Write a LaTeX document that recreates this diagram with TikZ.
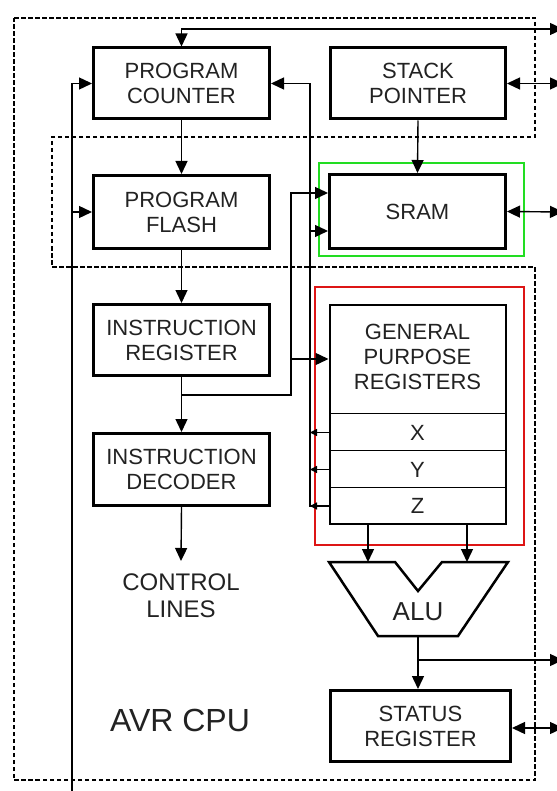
\documentclass[tikz,border=0pt]{standalone}
\usepackage{fontspec}
\setmainfont{Liberation Sans}
\usetikzlibrary{arrows.meta}
\definecolor{txt}{HTML}{222222}
\definecolor{grn}{HTML}{22DD22}
\definecolor{rd}{HTML}{DD1515}
\begin{document}
\begin{tikzpicture}[x=1pt,y=-1pt,
  box/.style={draw, line width=3pt, inner sep=0pt, align=center, text=txt,
    font=\fontsize{22}{25}\selectfont},
  lbl/.style={inner sep=0pt, align=center, text=txt, font=\fontsize{22}{25}\selectfont},
  conn/.style={line width=1.4pt},
  arr/.style={-{Triangle[length=13pt,width=12pt]}},
  biarr/.style={{Triangle[length=13pt,width=12pt]}-{Triangle[length=13pt,width=12pt]}},
  sarr/.style={-{Triangle[length=7pt,width=7pt]}},
  dashbox/.style={line width=2.5pt, dash pattern=on 4.5pt off 2.5pt},
  divider/.style={line width=1pt}]
\useasboundingbox (0,0) rectangle (556,791);
\fill[white] (0,0) rectangle (556,791);

% outer dashed CPU boundary (with memory notch)
\draw[dashbox] (14,18) -- (535,18) -- (535,137) -- (52,137) -- (52,267) -- (535,267) -- (535,780) -- (14,780) -- cycle;

% highlight boxes
\draw[grn, line width=2.8pt] (319,163) rectangle (524,256);
\draw[rd, line width=2.5pt] (315,287) rectangle (524,545);

% boxes
\node[box, minimum width=176pt, minimum height=71pt] (pc) at (181.5,83.5) {PROGRAM\\COUNTER};
\node[box, minimum width=175pt, minimum height=71pt] (sp) at (418,83.5) {STACK\\POINTER};
\node[box, minimum width=176pt, minimum height=73pt] (flash) at (181.5,212) {PROGRAM\\FLASH};
\node[box, minimum width=176pt, minimum height=74pt] (sram) at (417.5,211.5) {SRAM};
\node[box, minimum width=176pt, minimum height=71pt] (ir) at (181.5,340) {INSTRUCTION\\REGISTER};
\node[box, minimum width=176pt, minimum height=72pt] (dec) at (181.5,469.5) {INSTRUCTION\\DECODER};
\node[box, minimum width=180pt, minimum height=71pt] (status) at (420.5,726) {STATUS\\REGISTER};

% general purpose registers
\node[draw, line width=2pt, minimum width=176pt, minimum height=219pt, inner sep=0pt] (gpr) at (417.5,414) {};
\node[lbl] (gprt) at (417.5,357) {GENERAL\\PURPOSE\\REGISTERS};
\node[lbl, minimum width=176pt, minimum height=37pt] (rx) at (417.5,432.5) {X};
\node[lbl, minimum width=176pt, minimum height=37pt] (ry) at (417.5,469.5) {Y};
\node[lbl, minimum width=176pt, minimum height=36pt] (rz) at (417.5,506) {Z};
\draw[divider] (rx.north west) -- (rx.north east);
\draw[divider] (ry.north west) -- (ry.north east);
\draw[divider] (rz.north west) -- (rz.north east);

% ALU
\draw[line width=2.5pt, line join=miter] (329,562) -- (395,562) -- (418,591) -- (442,562) -- (508,562) -- (458,636) -- (378,636) -- cycle;
\node[lbl, font=\fontsize{26}{28}\selectfont] (alu) at (418,612) {ALU};
\coordinate (aluA) at (368,562);
\coordinate (aluB) at (467,562);
\coordinate (aluO) at (418,636);

% texts
\node[lbl, font=\fontsize{24}{27}\selectfont] (ctl) at (181,596) {CONTROL\\LINES};
\node[lbl, font=\fontsize{32}{34}\selectfont] (avr) at (180,720) {AVR CPU};

% external ends
\coordinate (e0) at (563,29);
\coordinate (e1) at (563,83.5);
\coordinate (e2) at (563,212);
\coordinate (e3) at (563,660);
\coordinate (e4) at (563,728);
\coordinate (lb) at (72,795);
\coordinate (abus) at (310,506);
\coordinate (dbus) at (291,395);

% vertical flow
\draw[conn, arr] (pc.south) -- (flash.north);
\draw[conn, arr] (flash.south) -- (ir.north);
\draw[conn, arr] (ir.south) -- (dec.north);
\draw[conn, arr] (dec.south) -- (ctl.north |- 0,561);
\draw[conn, arr] (sp.south) -- (sram.north);

% top line into PC
\draw[conn, biarr] (pc.north) -- (pc.north |- e0) -- (e0);
% stack pointer / sram / status externals
\draw[conn, biarr] (sp.east) -- (e1);
\draw[conn, biarr] (sram.east) -- (e2);
\draw[conn, biarr] (status.east |- e4) -- (e4);

% left line
\draw[conn, arr] (lb) -- (lb |- pc.west) -- (pc.west);
\draw[conn, arr] (lb |- flash.west) -- (flash.west);

% address bus x=310
\draw[conn, arr] (abus -| rz.west) -- (abus) -- (abus |- pc.east) -- (pc.east);
\draw[conn, arr] (abus |- 0,231) -- (sram.west |- 0,231);
\draw[conn, sarr] (rx.west) -- (rx.west -| abus);
\draw[conn, sarr] (ry.west) -- (ry.west -| abus);
\draw[conn, sarr] (rz.west) -- (rz.west -| abus);

% data bus x=291
\draw[conn, arr] (ir.south |- dbus) -- (dbus) -- (dbus |- 0,193) -- (sram.west |- 0,193);
\draw[conn, arr] (dbus |- 0,359) -- (gpr.west |- 0,359);

% GPR to ALU
\draw[conn, arr] (aluA |- gpr.south) -- (aluA);
\draw[conn, arr] (aluB |- gpr.south) -- (aluB);

% ALU output
\draw[conn, arr] (aluO) -- (status.north -| aluO);
\draw[conn, arr] (aluO |- e3) -- (e3);
\end{tikzpicture}
\end{document}
